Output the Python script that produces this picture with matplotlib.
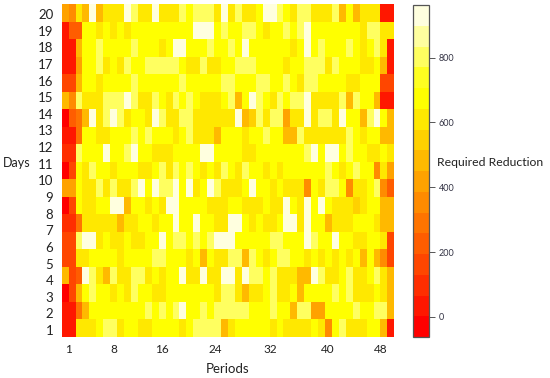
import numpy as np
import matplotlib
matplotlib.use("Agg")
import matplotlib.pyplot as plt
from matplotlib.colors import ListedColormap, BoundaryNorm

plt.rcParams["font.family"] = ["Lato", "DejaVu Sans"]

# R heat.colors(16), bar runs from about -62 to 962
level_colors = ["#FF0000", "#FF1700", "#FF2E00", "#FF4600", "#FF5D00", "#FF7400", "#FF8B00", "#FFA200",
                "#FFB900", "#FFD100", "#FFE800", "#FFFF00", "#FFFF20", "#FFFF60", "#FFFF9F", "#FFFFDF"]
level_edges = np.linspace(-62, 962, 17)

# one list per row of cells, top row first, 48 periods each
row_01 = [418, 354, 610, 480, 930, 480, 600, 600, 600, 930, 800, 600, 600, 930, 600, 600, 600, 800, 670, 800, 800, 800, 600, 930,
          600, 800, 600, 600, 670, 930, 930, 800, 670, 600, 800, 800, 600, 600, 600, 800, 480, 670, 480, 600, 600, 600, 34, 34]
row_02 = [34, 226, 226, 670, 670, 600, 670, 600, 670, 600, 670, 670, 670, 670, 670, 670, 670, 670, 670, 930, 930, 930, 670, 800,
          670, 670, 800, 800, 670, 600, 670, 670, 800, 670, 800, 930, 670, 670, 670, 670, 670, 670, 670, 600, 800, 800, 600, 600]
row_03 = [34, 34, 480, 670, 670, 800, 670, 670, 670, 670, 800, 670, 670, 670, 600, 670, 930, 930, 670, 670, 670, 800, 670, 670,
          800, 670, 930, 670, 670, 670, 670, 670, 670, 600, 670, 930, 670, 800, 670, 670, 670, 800, 670, 600, 670, 800, 600, 34]
row_04 = [34, 34, 418, 670, 670, 800, 600, 670, 600, 800, 670, 670, 800, 800, 800, 800, 800, 670, 600, 600, 800, 600, 600, 670,
          670, 800, 800, 800, 670, 670, 670, 670, 600, 670, 670, 800, 800, 800, 600, 800, 670, 670, 670, 600, 600, 670, 480, 34]
row_05 = [162, 162, 480, 670, 670, 600, 670, 670, 670, 670, 800, 670, 670, 670, 670, 670, 670, 800, 670, 670, 670, 670, 670, 800,
          800, 670, 670, 670, 800, 800, 670, 670, 800, 670, 600, 800, 800, 670, 670, 670, 670, 600, 600, 670, 670, 670, 162, 162]
row_06 = [480, 354, 800, 600, 600, 600, 800, 800, 800, 930, 800, 600, 600, 800, 670, 600, 800, 670, 800, 670, 600, 600, 600, 670,
          800, 480, 670, 930, 800, 670, 600, 800, 670, 800, 800, 930, 600, 600, 600, 600, 800, 480, 800, 670, 670, 480, 34, 34]
row_07 = [-30, 226, 290, 480, 930, 600, 800, 930, 800, 600, 670, 670, 600, 930, 800, 600, 600, 800, 800, 600, 600, 600, 600, 600,
          600, 930, 480, 540, 800, 600, 800, 800, 418, 600, 600, 930, 600, 800, 800, 600, 930, 670, 670, 480, 800, 930, 670, 480]
row_08 = [34, 34, 290, 670, 670, 600, 600, 670, 670, 670, 800, 670, 800, 670, 670, 670, 600, 670, 800, 600, 600, 600, 480, 670,
          670, 670, 600, 670, 670, 800, 670, 670, 480, 480, 800, 600, 600, 600, 600, 600, 600, 800, 670, 600, 670, 670, 480, 480]
row_09 = [98, 98, 800, 670, 670, 670, 930, 670, 670, 800, 930, 670, 670, 600, 600, 600, 670, 670, 670, 670, 930, 930, 670, 670,
          670, 670, 600, 600, 670, 670, 670, 670, 670, 670, 670, 800, 930, 670, 930, 930, 670, 800, 670, 670, 600, 600, 670, 600]
row_10 = [-30, 162, 670, 600, 800, 670, 670, 600, 670, 670, 670, 600, 600, 670, 800, 600, 800, 670, 800, 670, 600, 670, 600, 800,
          670, 600, 800, 670, 670, 600, 670, 600, 670, 670, 670, 670, 670, 670, 800, 670, 600, 670, 800, 670, 670, 354, 600, 418]
row_11 = [418, 418, 670, 600, 600, 800, 600, 800, 600, 600, 800, 930, 670, 930, 800, 800, 930, 670, 930, 600, 670, 930, 800, 600,
          600, 600, 670, 930, 670, 670, 600, 670, 600, 600, 600, 354, 670, 600, 800, 800, 670, 354, 600, 600, 670, 800, 354, 226]
row_12 = [-30, 162, 670, 600, 600, 670, 670, 930, 930, 480, 670, 670, 600, 670, 600, 930, 930, 670, 670, 670, 670, 600, 600, 600,
          670, 670, 600, 600, 600, 670, 600, 600, 930, 670, 600, 930, 670, 930, 670, 600, 600, 600, 540, 600, 670, 670, 480, 480]
row_13 = [98, 98, 290, 600, 600, 600, 600, 600, 480, 600, 600, 670, 670, 600, 670, 670, 930, 670, 670, 930, 670, 670, 600, 600,
          930, 930, 670, 600, 670, 600, 600, 670, 930, 930, 600, 930, 670, 670, 480, 600, 600, 600, 670, 670, 670, 600, 480, 480]
row_14 = [162, 162, 800, 930, 930, 600, 670, 600, 600, 670, 600, 600, 670, 670, 930, 670, 800, 800, 670, 800, 670, 800, 930, 930,
          930, 670, 670, 670, 670, 670, 800, 800, 670, 670, 670, 930, 800, 670, 670, 930, 670, 670, 600, 600, 670, 670, 600, 162]
row_15 = [162, 162, 600, 600, 670, 670, 670, 670, 600, 670, 670, 670, 670, 800, 800, 670, 670, 670, 600, 670, 480, 670, 600, 600,
          800, 800, 480, 800, 670, 600, 670, 800, 800, 670, 670, 600, 670, 600, 670, 600, 670, 600, 670, 480, 670, 480, 354, 162]
row_16 = [480, 162, 226, 930, 800, 600, 480, 800, 600, 600, 800, 800, 600, 670, 600, 670, 670, 930, 600, 600, 930, 600, 600, 930,
          930, 600, 930, 800, 800, 670, 800, 600, 600, 600, 480, 480, 930, 800, 600, 600, 670, 800, 600, 600, 670, 800, 600, 480]
row_17 = [-30, 162, 480, 670, 800, 670, 670, 600, 670, 600, 800, 670, 670, 600, 600, 670, 670, 670, 670, 670, 670, 670, 600, 800,
          800, 600, 480, 600, 600, 670, 800, 600, 600, 670, 480, 670, 670, 670, 670, 800, 670, 800, 600, 600, 600, 670, 600, 480]
row_18 = [34, 34, 290, 480, 670, 670, 670, 670, 670, 670, 670, 670, 800, 670, 800, 670, 800, 930, 670, 670, 800, 670, 800, 800,
          800, 800, 800, 670, 670, 670, 800, 670, 670, 480, 800, 800, 418, 418, 670, 670, 670, 670, 800, 670, 670, 800, 800, 480]
row_19 = [34, 34, 600, 600, 600, 670, 800, 800, 600, 670, 670, 600, 600, 670, 670, 670, 670, 600, 670, 800, 800, 800, 800, 480,
          600, 670, 670, 670, 670, 670, 600, 670, 600, 600, 600, 600, 670, 600, 354, 670, 800, 600, 600, 600, 670, 670, 480, 34]

rows = [row_01, row_02, row_03, row_04, row_05, row_06, row_07, row_08, row_09, row_10,
        row_11, row_12, row_13, row_14, row_15, row_16, row_17, row_18, row_19]

period_labels = ["1", "8", "16", "24", "32", "40", "48"]
period_ticks = [1.55, 8.04, 15.0, 22.7, 30.6, 38.9, 46.6]
day_labels = [str(d) for d in range(1, 21)]
bar_ticks = [0, 200, 400, 600, 800]

W, H = 550, 378
fig = plt.figure(figsize=(W / 100, H / 100), dpi=100)
ax = fig.add_axes([61.7 / W, 1 - 336.7 / H, 332.6 / W, 332.7 / H])
cax = fig.add_axes([412.5 / W, 1 - 337 / H, 16.5 / W, 332 / H])

cmap = ListedColormap(level_colors)
norm = BoundaryNorm(level_edges, cmap.N)
data = np.array(rows)[::-1]
mesh = ax.pcolormesh(np.arange(0.5, 49), np.arange(0.5, 20), data, cmap=cmap, norm=norm)

for s in ax.spines.values():
    s.set_visible(False)
ax.set_xticks(period_ticks, period_labels)
ax.set_yticks(np.linspace(0.88, 18.93, 20), day_labels)
ax.tick_params(axis="x", length=0, pad=5, labelsize=8.5, colors="#222222")
ax.tick_params(axis="y", length=0, pad=6, labelsize=9.5, colors="#222222")

cb = fig.colorbar(mesh, cax=cax, spacing="proportional", ticks=bar_ticks, drawedges=False)
cb.outline.set_edgecolor("#555555")
cb.outline.set_linewidth(0.9)
cb.ax.tick_params(length=4, width=0.7, color="#555555", labelsize=6.5, labelcolor="#333344", pad=3)
cb.ax.minorticks_off()

fig.text(3 / W, 1 - 163 / H, "Days", fontsize=9, va="center", color="#222222")
fig.text(228 / W, 1 - 369 / H, "Periods", fontsize=9.5, ha="center", va="center", color="#222222")
fig.text(437 / W, 1 - 162 / H, "Required Reduction", fontsize=8.8, va="center", color="#222222")

fig.savefig("out.png", dpi=100, facecolor="white")
plt.close(fig)
